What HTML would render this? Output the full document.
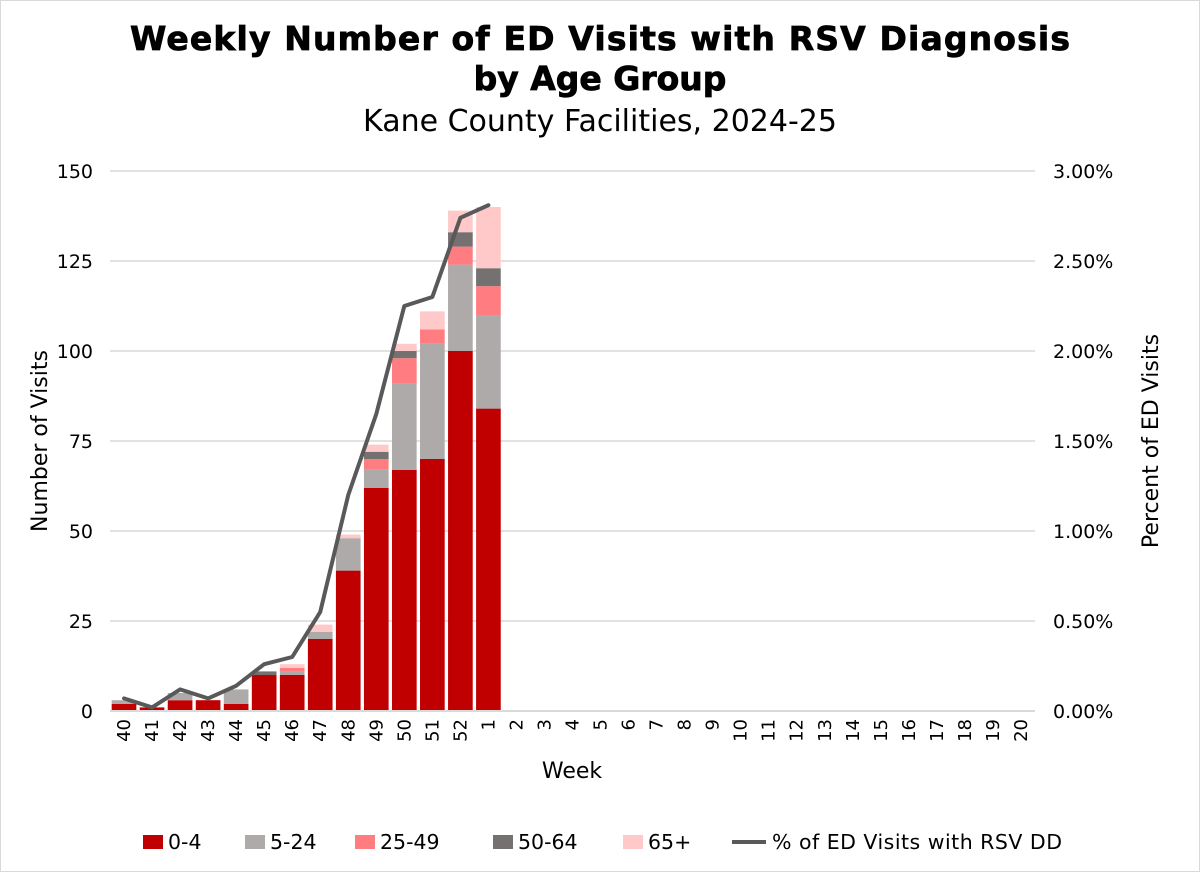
<!DOCTYPE html>
<html><head><meta charset="utf-8"><style>
body{margin:0;background:#fff;font-family:"DejaVu Sans","Liberation Sans",sans-serif;}
</style></head><body>
<svg id="chart" width="1200" height="872" viewBox="0 0 1200 872">
<rect x="0.5" y="0.5" width="1199" height="871" fill="#fff" stroke="#d9d9d9"/>
<text x="600" y="50" text-anchor="middle" font-size="33" font-weight="bold" fill="#000" stroke="#000" stroke-width="0.8" textLength="940">Weekly Number of ED Visits with RSV Diagnosis</text>
<text x="600" y="90" text-anchor="middle" font-size="33" font-weight="bold" fill="#000" stroke="#000" stroke-width="0.8">by Age Group</text>
<text x="600" y="131" text-anchor="middle" font-size="30" fill="#000">Kane County Facilities, 2024-25</text>
<g id="grid"></g><g id="bars"></g><g id="line"></g><g id="axes"></g><g id="legend"></g>
<text x="47" y="441" text-anchor="middle" font-size="22" transform="rotate(-90 47 441)">Number of Visits</text>
<text x="1158" y="441" text-anchor="middle" font-size="22" transform="rotate(-90 1158 441)">Percent of ED Visits</text>
<text x="572" y="778" text-anchor="middle" font-size="22">Week</text>
</svg>
<script>
const weeks=["40","41","42","43","44","45","46","47","48","49","50","51","52","1","2","3","4","5","6","7","8","9","10","11","12","13","14","15","16","17","18","19","20"];
const age0_4=[2,1,3,3,2,10,10,20,39,62,67,70,100,84];
const age5_24=[1,0,2,0,4,0,1,2,9,5,24,32,24,26];
const age25_49=[0,0,0,0,0,0,1,0,0,3,7,4,5,8];
const age50_64=[0,0,0,0,0,1,0,0,0,2,2,0,4,5];
const age65=[0,0,0,0,0,0,1,2,1,2,2,5,6,17];
const pctED=[0.07,0.02,0.12,0.07,0.14,0.26,0.30,0.55,1.20,1.65,2.25,2.30,2.74,2.81];
const yTicks=[0,25,50,75,100,125,150];
const y2Ticks=["0.00%","0.50%","1.00%","1.50%","2.00%","2.50%","3.00%"];
const series=[age0_4,age5_24,age25_49,age50_64,age65];
const names=["0-4","5-24","25-49","50-64","65+"];
const colors=["#c00000","#aeaaaa","#ff7c80","#767171","#ffc9c9"];
const NS="http://www.w3.org/2000/svg";
const X0=110,X1=1035,Y0=711,Y1=171;
const bw=(X1-X0)/weeks.length;
const y=v=>Y0-(v/150)*(Y0-Y1);
const y2=p=>Y0-(p/3)*(Y0-Y1);
const xc=i=>X0+bw*(i+0.5);
function mk(t,a,p){const e=document.createElementNS(NS,t);for(const k in a)e.setAttribute(k,a[k]);p.appendChild(e);return e;}
const grid=document.getElementById('grid'),axes=document.getElementById('axes');
yTicks.forEach((t,i)=>{
 if(t>0){const g=mk('line',{x1:X0,x2:X1,y1:y(t),y2:y(t),stroke:'#d9d9d9','stroke-width':1.5},grid);
 
 }
 const l=mk('text',{x:93,y:y(t)+7,'text-anchor':'end','font-size':19},axes);l.textContent=t;
 
 
 const r=mk('text',{x:1053,y:y(t)+7,'font-size':19},axes);r.textContent=y2Ticks[i];
 
 
});
const ax=mk('line',{x1:X0,x2:X1,y1:Y0,y2:Y0,stroke:'#d9d9d9','stroke-width':2},axes);


weeks.forEach((w,i)=>{
 const t=mk('text',{x:0,y:0,'font-size':18,'text-anchor':'end',transform:`translate(${xc(i)+6},${Y0+8}) rotate(-90)`},axes);t.textContent=w;
 
 
});
const bars=document.getElementById('bars');
age0_4.forEach((_,i)=>{let acc=0;series.forEach((s,k)=>{const v=s[i]||0;if(v>0){
 const r=mk('rect',{x:xc(i)-bw*0.44,width:bw*0.88,y:y(acc+v),height:y(acc)-y(acc+v),fill:colors[k]},bars);
 
 }
 acc+=v;});});
const pl=mk('polyline',{points:pctED.map((p,i)=>xc(i)+','+y2(p)).join(' '),fill:'none',stroke:'#595959','stroke-width':4,'stroke-linejoin':'round','stroke-linecap':'round'},document.getElementById('line'));


const lg=document.getElementById('legend');
const lx=[143,245,355,493,623];
names.forEach((n,k)=>{
 const r=mk('rect',{x:lx[k],y:835,width:20,height:14,fill:colors[k]},lg);
 
 
 const t=mk('text',{x:lx[k]+25,y:849,'font-size':20.5},lg);t.textContent=n;
 
 
});
const ll=mk('line',{x1:732,x2:766,y1:842,y2:842,stroke:'#595959','stroke-width':4},lg);


const lt=mk('text',{x:772,y:849,'font-size':20.5,textLength:290},lg);lt.textContent="% of ED Visits with RSV DD";


</script>
</body></html>
